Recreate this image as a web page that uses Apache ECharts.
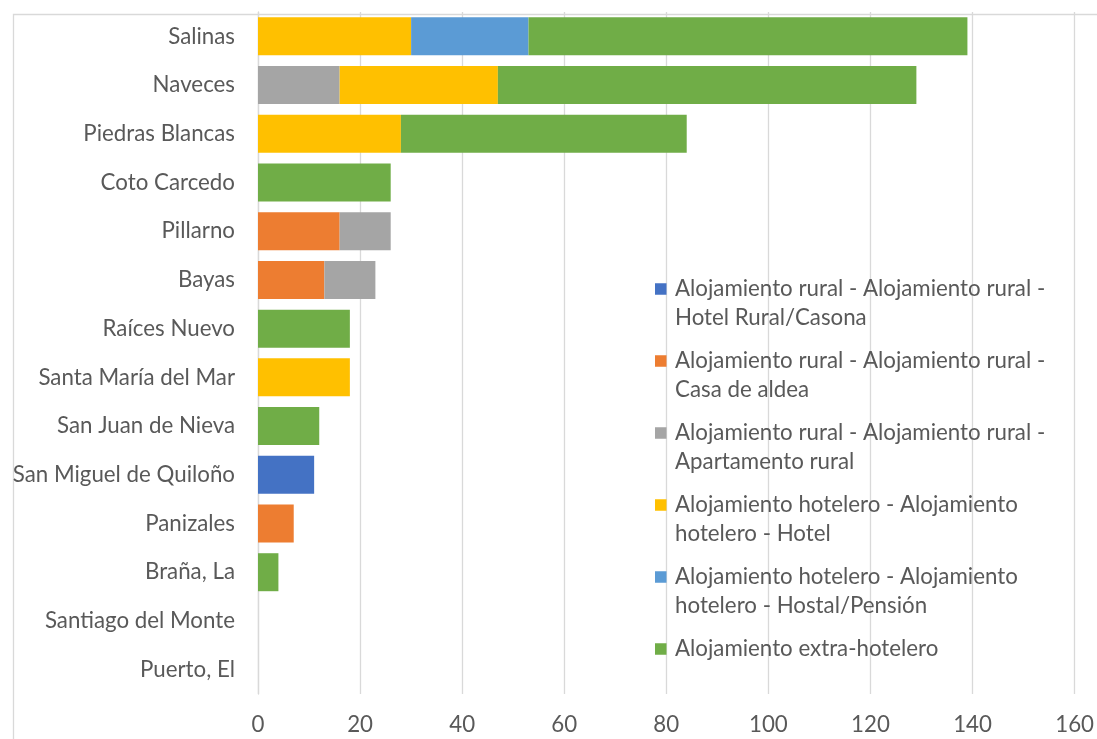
<!DOCTYPE html>
<html>
<head>
<meta charset="utf-8">
<script src="https://cdn.jsdelivr.net/npm/echarts@6/dist/echarts.min.js"></script>
<style>
  html, body { margin: 0; padding: 0; background: #fff; }
  #chart { width: 1097px; height: 739px; }
</style>
</head>
<body>
<div id="chart"></div>
<script>
// Localities, listed top to bottom
const categories = ['Salinas', 'Naveces', 'Piedras Blancas', 'Coto Carcedo', 'Pillarno', 'Bayas',
  'Raíces Nuevo', 'Santa María del Mar', 'San Juan de Nieva', 'San Miguel de Quiloño',
  'Panizales', 'Braña, La', 'Santiago del Monte', 'Puerto, El'];

// Accommodation counts per type
const hotelRural  = [0, 0, 0, 0, 0, 0, 0, 0, 0, 11, 0, 0, 0, 0];
const casaAldea   = [0, 0, 0, 0, 16, 13, 0, 0, 0, 0, 7, 0, 0, 0];
const apartamento = [0, 16, 0, 0, 10, 10, 0, 0, 0, 0, 0, 0, 0, 0];
const hotel       = [30, 31, 28, 0, 0, 0, 0, 18, 0, 0, 0, 0, 0, 0];
const hostal      = [23, 0, 0, 0, 0, 0, 0, 0, 0, 0, 0, 0, 0, 0];
const extra       = [86, 82, 56, 26, 0, 0, 18, 0, 12, 0, 0, 4, 0, 0];

const seriesNames = [
  'Alojamiento rural - Alojamiento rural - Hotel Rural/Casona',
  'Alojamiento rural - Alojamiento rural - Casa de aldea',
  'Alojamiento rural - Alojamiento rural - Apartamento rural',
  'Alojamiento hotelero - Alojamiento hotelero - Hotel',
  'Alojamiento hotelero - Alojamiento hotelero - Hostal/Pensión',
  'Alojamiento extra-hotelero'
];
const legendText = [
  'Alojamiento rural - Alojamiento rural -\nHotel Rural/Casona',
  'Alojamiento rural - Alojamiento rural -\nCasa de aldea',
  'Alojamiento rural - Alojamiento rural -\nApartamento rural',
  'Alojamiento hotelero - Alojamiento\nhotelero - Hotel',
  'Alojamiento hotelero - Alojamiento\nhotelero - Hostal/Pensión',
  'Alojamiento extra-hotelero\n '
];
const colors = ['#4472C4', '#ED7D31', '#A5A5A5', '#FFC000', '#5B9BD5', '#70AD47'];
const xTicks = { min: 0, max: 160, interval: 20 };

const FONT = 'Lato';
const FONT_SIZE = 22.3;
const TEXT = '#595959';
const GRID = '#d9d9d9';

const values = [hotelRural, casaAldea, apartamento, hotel, hostal, extra];

// square marker aligned with the first text line of each legend entry
const legendIcon = 'path://M0,8.75H11.5V20.25H0Z M15,0L15,0 M0,58L0,58';

const chart = echarts.init(document.getElementById('chart'), null, { renderer: 'canvas' });
chart.setOption({
  animation: false,
  color: colors,
  graphic: [{
    type: 'rect',
    left: 11, top: 12,
    shape: { width: 1200, height: 1000 },
    style: { fill: 'none', stroke: GRID, lineWidth: 1.3 },
    z: -1
  }],
  grid: { left: 258, right: 22, top: 12, bottom: 45, containLabel: false },
  legend: {
    orient: 'vertical',
    left: 655, top: 274.5,
    padding: 0,
    itemGap: 14,
    itemWidth: 15, itemHeight: 58,
    icon: legendIcon,
    data: seriesNames,
    formatter: name => legendText[seriesNames.indexOf(name)],
    textStyle: { fontFamily: FONT, fontSize: FONT_SIZE, lineHeight: 29, color: TEXT }
  },
  xAxis: {
    type: 'value',
    min: xTicks.min, max: xTicks.max, interval: xTicks.interval,
    axisLine: { show: false },
    axisTick: { show: false },
    splitLine: { lineStyle: { color: GRID, width: 1.3 } },
    axisLabel: { fontFamily: FONT, fontSize: FONT_SIZE, color: TEXT, margin: 20 }
  },
  yAxis: {
    type: 'category',
    inverse: true,
    data: categories,
    axisLine: { show: true, lineStyle: { color: GRID, width: 1.3 } },
    axisTick: { show: false },
    axisLabel: { fontFamily: FONT, fontSize: FONT_SIZE, color: TEXT, margin: 23 }
  },
  series: values.map((v, i) => ({
    name: seriesNames[i],
    type: 'bar',
    stack: 'total',
    barCategoryGap: '22%',
    data: v
  }))
});
</script>
</body>
</html>
